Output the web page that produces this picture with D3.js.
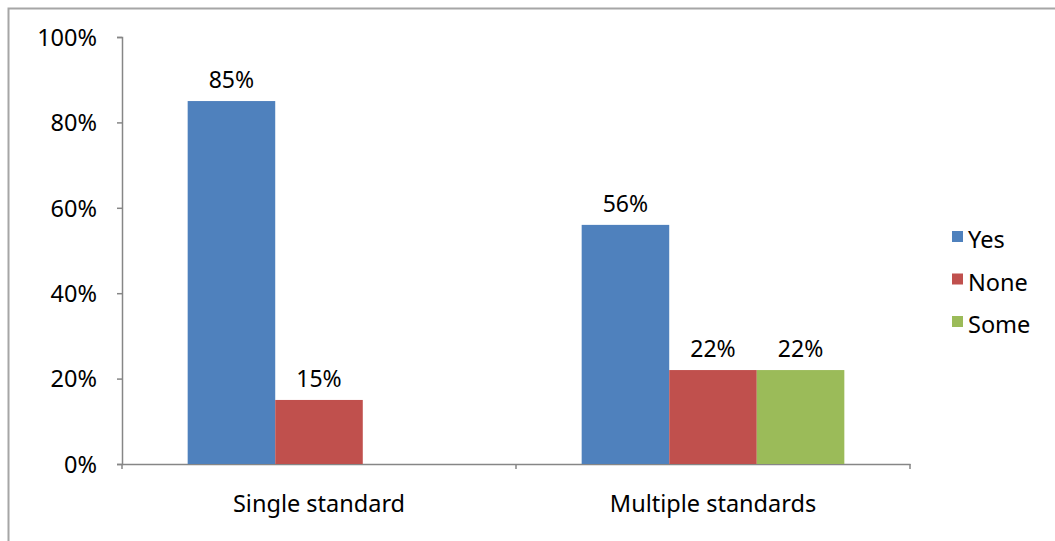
<!DOCTYPE html>
<html>
<head>
<meta charset="utf-8">
<script src="https://cdn.jsdelivr.net/npm/d3@7"></script>
<style>
  html, body { margin: 0; padding: 0; background: #fff; }
  svg { display: block; }
  text { font-family: "Noto Sans", "Open Sans", sans-serif; fill: #000; }
</style>
</head>
<body>
<svg id="chart" width="1055" height="541"></svg>
<script>
// Chart data
const categories = ["Single standard", "Multiple standards"];
const seriesNames = ["Yes", "None", "Some"];
const yesValues = [85, 56];
const noneValues = [15, 22];
const someValues = [null, 22];
const tickValues = [0, 20, 40, 60, 80, 100];
const colors = ["#4f81bd", "#c0504d", "#9bbb59"];

const seriesValues = [yesValues, noneValues, someValues];

const svg = d3.select("#chart");

// Outer frame around the chart area
svg.append("rect")
  .attr("x", 8.5).attr("y", 8.5)
  .attr("width", 1100).attr("height", 600)
  .attr("fill", "none")
  .attr("stroke", "#a6a6a6")
  .attr("stroke-width", 2);

const plot = { left: 122, right: 910, top: 37, bottom: 464 };

const x0 = d3.scaleBand()
  .domain(categories)
  .range([plot.left, plot.right])
  .paddingInner(0)
  .paddingOuter(0);

// Each category holds one slot per series, with 0.75 slot of space on each side
const x1 = d3.scaleBand()
  .domain(seriesNames)
  .range([0, x0.bandwidth()])
  .paddingInner(0)
  .paddingOuter(0.75);

const y = d3.scaleLinear().domain([0, 100]).range([plot.bottom, plot.top]);

// Y axis
const yAxis = svg.append("g")
  .attr("transform", `translate(${plot.left},0)`)
  .call(d3.axisLeft(y).tickValues(tickValues).tickFormat(d => d + "%").tickSize(5).tickPadding(20));
yAxis.select(".domain").attr("stroke", "#868686").attr("stroke-width", 1.5);
yAxis.selectAll(".tick line").attr("stroke", "#868686").attr("stroke-width", 1.5);
yAxis.selectAll(".tick text")
  .style("font-size", "23.5px")
  .attr("dy", "0.35em");

// X axis baseline and category ticks
const xAxis = svg.append("g")
  .attr("transform", `translate(0,${plot.bottom})`)
  .call(d3.axisBottom(x0).tickSize(0).tickPadding(31));
xAxis.select(".domain").attr("stroke", "#868686").attr("stroke-width", 1.5);
xAxis.selectAll(".tick text").style("font-size", "23.5px");

const boundaries = [plot.left, ...categories.map(c => x0(c) + x0.bandwidth())];
xAxis.selectAll(".bound")
  .data(boundaries)
  .join("line")
  .attr("class", "bound")
  .attr("x1", d => d).attr("x2", d => d)
  .attr("y1", 0).attr("y2", 5)
  .attr("stroke", "#868686").attr("stroke-width", 1.5);

// Bars
const rows = [];
categories.forEach((c, i) => {
  seriesNames.forEach((s, j) => {
    const v = seriesValues[j][i];
    if (v !== null) rows.push({ cat: c, series: s, idx: j, value: v });
  });
});

svg.append("g").selectAll("rect")
  .data(rows)
  .join("rect")
  .attr("x", d => x0(d.cat) + x1(d.series))
  .attr("y", d => y(d.value))
  .attr("width", x1.bandwidth())
  .attr("height", d => y(0) - y(d.value))
  .attr("fill", d => colors[d.idx]);

// Value labels
svg.append("g").selectAll("text")
  .data(rows)
  .join("text")
  .attr("x", d => x0(d.cat) + x1(d.series) + x1.bandwidth() / 2)
  .attr("y", d => y(d.value) - 13)
  .attr("text-anchor", "middle")
  .style("font-size", "23px")
  .text(d => d.value + "%");

// Legend
const legend = svg.append("g").attr("transform", "translate(952,240)");
const items = legend.selectAll("g")
  .data(seriesNames)
  .join("g")
  .attr("transform", (d, i) => `translate(0,${i * 42.5})`);
items.append("rect")
  .attr("x", 0).attr("y", -9)
  .attr("width", 11).attr("height", 11)
  .attr("fill", (d, i) => colors[i]);
items.append("text")
  .attr("x", 16).attr("y", 0)
  .attr("dy", "0.35em")
  .style("font-size", "23.5px")
  .text(d => d);
</script>
</body>
</html>
